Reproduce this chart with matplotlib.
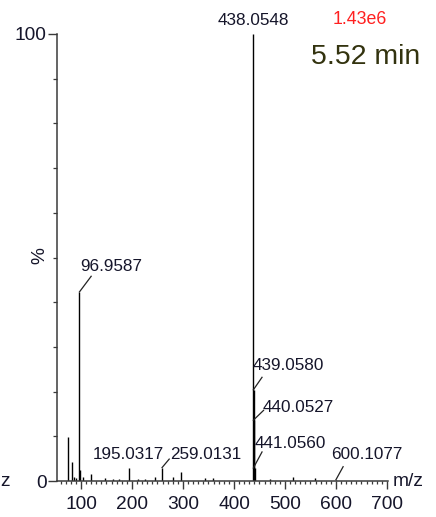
import numpy as np
import matplotlib.pyplot as plt
from matplotlib.ticker import MultipleLocator, FixedLocator

# Spectrum data (m/z, relative intensity %)
mz = [75.1, 81.7, 87.0, 90.0, 96.9587, 99.0, 104.0, 119.6, 147.0, 163.0, 175.0,
      195.0317, 212.0, 225.0, 245.0, 259.0131, 280.0, 297.0, 343.0, 359.0,
      438.0548, 439.0580, 440.0527, 441.0560, 470.0, 516.0, 559.0, 600.1077]
intensity = [9.9, 4.3, 1.0, 0.7, 42.3, 2.5, 0.8, 1.5, 0.6, 0.5, 0.5,
             3.0, 0.5, 0.5, 0.8, 3.0, 0.9, 2.0, 0.7, 0.6,
             100.0, 20.4, 13.6, 2.9, 0.5, 0.8, 0.6, 0.3]

label_mz = ['96.9587', '195.0317', '259.0131', '438.0548',
            '439.0580', '440.0527', '441.0560', '600.1077']
base_peak = '1.43e6'
rt = '5.52 min'

FONT = ['Liberation Sans', 'DejaVu Sans']
TXT = '#15152a'
FS = 12.3

fig = plt.figure(figsize=(4.36, 5.17), dpi=100)
ax = fig.add_axes([57/436, 36/517, 331/436, 447/517])

ax.vlines(mz, 0, intensity, color='black', lw=1.0)
ax.set_xlim(53, 702)
ax.set_ylim(0, 100)

for s in ['top', 'right']:
    ax.spines[s].set_visible(False)
for s in ['left', 'bottom']:
    ax.spines[s].set_color('#3a3a3a')
    ax.spines[s].set_linewidth(1.1)

ax.xaxis.set_minor_locator(MultipleLocator(10))
ax.yaxis.set_major_locator(FixedLocator([0, 100]))
ax.yaxis.set_minor_locator(MultipleLocator(10))
ax.set_xticks([100, 200, 300, 400, 500, 600, 700])
ax.tick_params(axis='x', which='major', length=5.5, width=1.0, color='#3a3a3a', pad=5)
ax.tick_params(axis='x', which='minor', length=2.5, width=0.9, color='#3a3a3a')
ax.tick_params(axis='y', which='major', length=6.5, width=1.0, color='#3a3a3a', pad=1)
ax.tick_params(axis='y', which='minor', length=3, width=0.9, color='#3a3a3a')
for lab in ax.get_xticklabels() + ax.get_yticklabels():
    lab.set_family(FONT)
    lab.set_fontsize(FS + 1.5)
    lab.set_color(TXT)

# peak labels, with an optional leader from the peak top to the text
def peak_label(txt, x, y, ha='left', leader=None):
    ax.text(x, y, txt, ha=ha, va='bottom', family=FONT, fontsize=FS,
            color=TXT, clip_on=False)
    if leader is not None:
        (x0, y0), (x1, y1) = leader
        ax.plot([x0, x1], [y0, y1], color='#222222', lw=0.9, clip_on=False)

peak_label(label_mz[0], 98, 46.3, leader=((97, 42.3), (120, 45.8)))
peak_label(label_mz[1], 192, 4.2, ha='center')
peak_label(label_mz[2], 274, 4.2, leader=((259, 3.0), (273, 4.9)))
peak_label(label_mz[3], 438, 101.3, ha='center')
peak_label(label_mz[4], 436, 24.2, leader=((438, 20.4), (455, 23.2)))
peak_label(label_mz[5], 457, 14.7, leader=((438, 13.6), (458, 15.8)))
peak_label(label_mz[6], 440, 6.8, leader=((438, 2.9), (455, 6.5)))
peak_label(label_mz[7], 591, 4.2, leader=((600, 0.3), (614, 3.2)))

fig.text(333/436, 1 - 28/517, base_peak, color='#ff2020', family=FONT,
         fontsize=FS + 0.5, va='bottom')
fig.text(311/436, 1 - 70/517, rt, color='#33330f', family=FONT,
         fontsize=20.5, va='bottom')
fig.text(393/436, 1 - 481/517, 'm/z', color=TXT, family=FONT, fontsize=FS + 1.5,
         va='center')
fig.text(40/436, 1 - 256/517, '%', color=TXT, family=FONT, fontsize=FS + 1.5,
         va='center', ha='center', rotation=90)
fig.text(0.5/436, 1 - 482/517, 'z', color=TXT, family=FONT, fontsize=FS + 1.5,
         va='center')

fig.savefig('out.png', dpi=100)
